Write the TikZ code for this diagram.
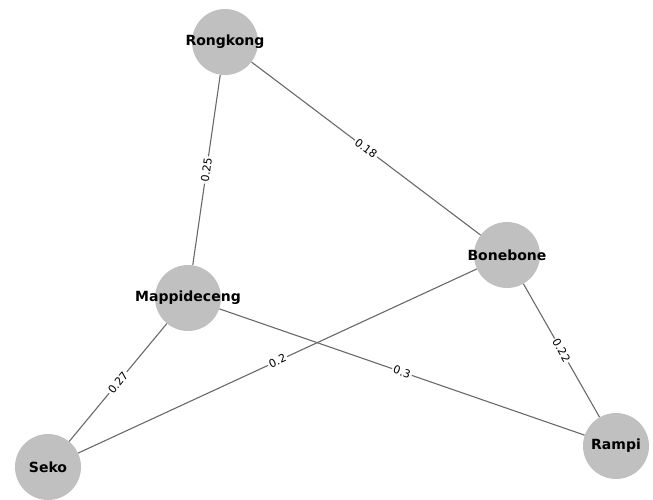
\documentclass[tikz,border=0pt]{standalone}
\usepackage{fontspec}
\setmainfont{DejaVu Sans}
\begin{document}
\begin{tikzpicture}[x=1pt,y=-1pt,
  town/.style={circle,fill={rgb,255:red,192;green,192;blue,192},draw=none,minimum size=66pt,inner sep=0pt},
  townlabel/.style={font=\fontsize{14}{16}\selectfont\bfseries},
  road/.style={draw={rgb,255:red,105;green,105;blue,105},line width=1.1pt},
  wt/.style={midway,sloped,fill=white,inner sep=1.5pt,font=\fontsize{11}{13}\selectfont}]
\useasboundingbox (0,0) rectangle (653,499);
\node[town] (rk) at (225,42) {};
\node[town] (bb) at (507,255) {};
\node[town] (mp) at (188,298) {};
\node[town] (sk) at (48,467) {};
\node[town] (rp) at (616,446) {};
\path[road] (rk) -- node[wt] {0.25} (mp);
\path[road] (rk) -- node[wt] {0.18} (bb);
\path[road] (mp) -- node[wt] {0.27} (sk);
\path[road] (sk) -- node[wt] {0.2} (bb);
\path[road] (mp) -- node[wt] {0.3} (rp);
\path[road] (bb) -- node[wt] {0.22} (rp);
\node[townlabel] (rkl) at (rk) {Rongkong};
\node[townlabel] (bbl) at (bb) {Bonebone};
\node[townlabel] (mpl) at (mp) {Mappideceng};
\node[townlabel] (skl) at (sk) {Seko};
\node[townlabel] (rpl) at (rp) {Rampi};
\end{tikzpicture}
\end{document}
